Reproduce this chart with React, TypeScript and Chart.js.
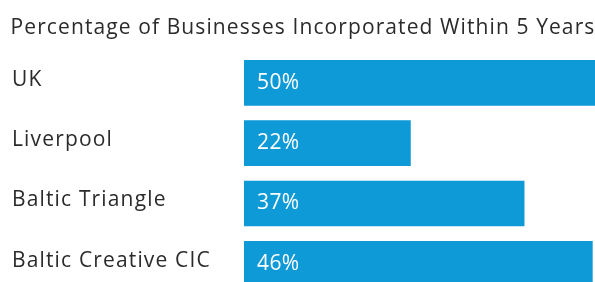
import React, { useEffect, useRef } from "react";
import { Chart, registerables } from "chart.js";

Chart.register(...registerables);

const TITLE = "Percentage of Businesses Incorporated Within 5 Years";
const categories = ["UK", "Liverpool", "Baltic Triangle", "Baltic Creative CIC"];
const values = [50, 22, 37, 46];

const FONT = "'Open Sans', sans-serif";
const TEXT_COLOR = "#2b2b2b";
const BAR_COLOR = "#0E99D7";

export default function App() {
  const ref = useRef<HTMLCanvasElement | null>(null);

  useEffect(() => {
    if (!ref.current) return;
    const overlay = {
      id: "overlay",
      beforeDraw(chart: any) {
        chart.ctx.letterSpacing = "1.15px";
      },
      afterDatasetsDraw(chart: any) {
        const ctx = chart.ctx;
        ctx.save();
        const meta = chart.getDatasetMeta(0);
        ctx.letterSpacing = "0.4px";
        ctx.font = `400 21px ${FONT}`;
        ctx.fillStyle = "#ffffff";
        ctx.textAlign = "left";
        ctx.textBaseline = "middle";
        meta.data.forEach((el: any, i: number) => {
          ctx.fillText(`${values[i]}%`, el.base + 13, el.y);
        });
        ctx.letterSpacing = "1.1px";
        ctx.font = `400 21px ${FONT}`;
        ctx.fillStyle = TEXT_COLOR;
        ctx.textAlign = "center";
        ctx.textBaseline = "alphabetic";
        ctx.fillText(TITLE, 303, 34);
        ctx.restore();
      },
      afterDraw(chart: any) {
        chart.ctx.letterSpacing = "0px";
      },
    };
    const chart = new Chart(ref.current, {
      type: "bar",
      data: {
        labels: categories,
        datasets: [
          {
            data: values,
            backgroundColor: BAR_COLOR,
            borderWidth: 0,
            categoryPercentage: 1,
            barPercentage: 0.757,
          },
        ],
      },
      options: {
        indexAxis: "y",
        animation: false,
        responsive: true,
        maintainAspectRatio: false,
        devicePixelRatio: 1,
        layout: { padding: { top: 52.65, left: 12, right: 0, bottom: 0 } },
        plugins: { legend: { display: false }, title: { display: false }, tooltip: { enabled: false } },
        scales: {
          x: { display: false, min: 0, max: 50 },
          y: {
            grid: { display: false, drawTicks: false },
            border: { display: false },
            afterFit: (scale: any) => {
              scale.width = 232;
              scale.paddingTop = 0;
              scale.paddingBottom = 0;
            },
            ticks: {
              crossAlign: "far",
              labelOffset: -3,
              padding: 0,
              color: TEXT_COLOR,
              font: { family: FONT, size: 21 },
            },
          },
        },
      },
      plugins: [overlay],
    });
    return () => chart.destroy();
  }, []);

  return (
    <div style={{ position: "absolute", top: 0, left: 0, width: 595, height: 282, overflow: "hidden", background: "#fff" }}>
      <div style={{ position: "relative", width: 623, height: 294 }}>
        <canvas ref={ref} style={{ display: "block" }} />
      </div>
    </div>
  );
}
